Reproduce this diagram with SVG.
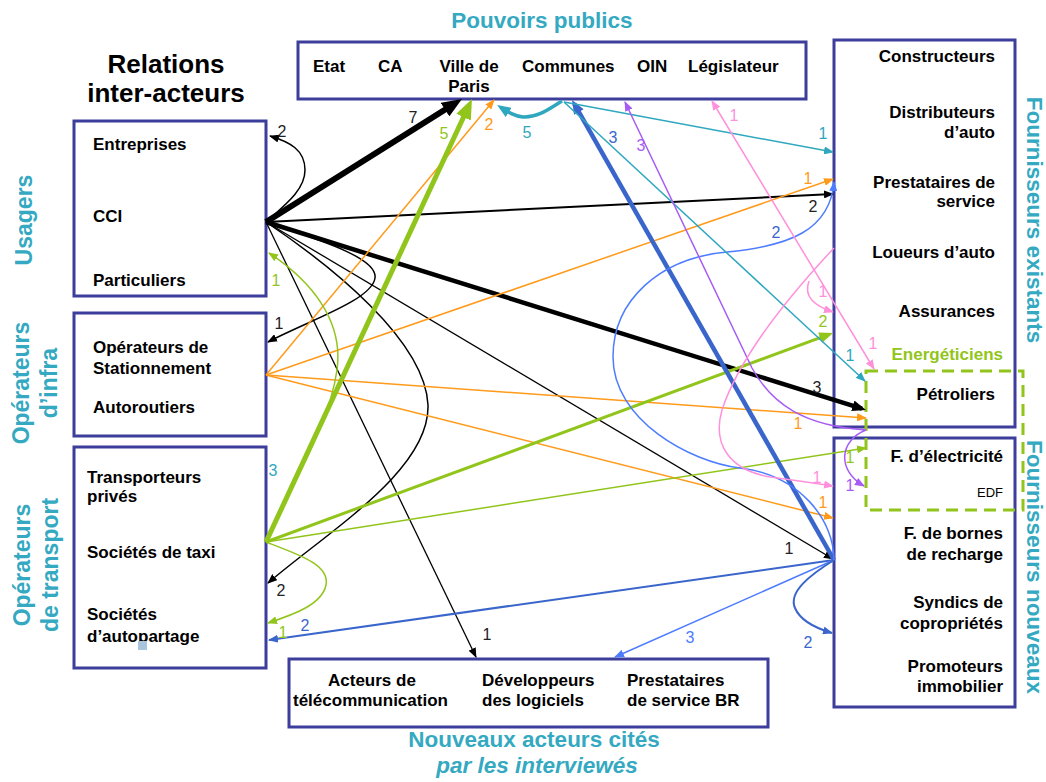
<svg xmlns="http://www.w3.org/2000/svg" width="1046" height="782" viewBox="0 0 1046 782">
<style>
.box{fill:#fff;stroke:#3d3d9c;stroke-width:3}
.t{font-family:"Liberation Sans",Arial,sans-serif;font-weight:bold;font-size:17px;fill:#000}
.e{text-anchor:end}
.h{font-family:"Liberation Sans",Arial,sans-serif;font-weight:bold;font-size:22.5px;fill:#34a9c1}
.s{font-family:"Liberation Sans",Arial,sans-serif;font-weight:bold;font-size:23px;fill:#34a9c1;text-anchor:middle}
.l{font-family:"Liberation Sans",Arial,sans-serif;font-size:16px;text-anchor:middle}
.c path{fill:none}
.k{stroke:#000}.o{stroke:#ff9a1a}.g{stroke:#92c51b}.b{stroke:#3a66cc}.lb{stroke:#4d7cff}.tl{stroke:#2ea7bf}.p{stroke:#a75cf5}.pk{stroke:#ff90dc}
</style>
<defs>
<marker id="mk" viewBox="0 0 10 8" refX="9" refY="4" markerWidth="10" markerHeight="8" markerUnits="userSpaceOnUse" orient="auto-start-reverse"><path d="M0,0L10,4L0,8z" fill="#000"/></marker>
<marker id="mkM" viewBox="0 0 10 8" refX="7" refY="4" markerWidth="14" markerHeight="11" markerUnits="userSpaceOnUse" orient="auto"><path d="M0,0L10,4L0,8z" fill="#000"/></marker>
<marker id="mkB" viewBox="0 0 10 8" refX="6" refY="4" markerWidth="20" markerHeight="16" markerUnits="userSpaceOnUse" orient="auto"><path d="M0,0L10,4L0,8z" fill="#000"/></marker>
<marker id="mo" viewBox="0 0 10 8" refX="9" refY="4" markerWidth="10" markerHeight="8" markerUnits="userSpaceOnUse" orient="auto"><path d="M0,0L10,4L0,8z" fill="#ff9a1a"/></marker>
<marker id="mg" viewBox="0 0 10 8" refX="9" refY="4" markerWidth="10" markerHeight="8" markerUnits="userSpaceOnUse" orient="auto"><path d="M0,0L10,4L0,8z" fill="#92c51b"/></marker>
<marker id="mgM" viewBox="0 0 10 8" refX="7" refY="4" markerWidth="14" markerHeight="11" markerUnits="userSpaceOnUse" orient="auto"><path d="M0,0L10,4L0,8z" fill="#92c51b"/></marker>
<marker id="mgB" viewBox="0 0 10 8" refX="6" refY="4" markerWidth="20" markerHeight="16" markerUnits="userSpaceOnUse" orient="auto"><path d="M0,0L10,4L0,8z" fill="#92c51b"/></marker>
<marker id="mb" viewBox="0 0 10 8" refX="9" refY="4" markerWidth="10" markerHeight="8" markerUnits="userSpaceOnUse" orient="auto"><path d="M0,0L10,4L0,8z" fill="#3a66cc"/></marker>
<marker id="mbM" viewBox="0 0 10 8" refX="7" refY="4" markerWidth="14" markerHeight="11" markerUnits="userSpaceOnUse" orient="auto"><path d="M0,0L10,4L0,8z" fill="#3a66cc"/></marker>
<marker id="mlb" viewBox="0 0 10 8" refX="9" refY="4" markerWidth="10" markerHeight="8" markerUnits="userSpaceOnUse" orient="auto"><path d="M0,0L10,4L0,8z" fill="#4d7cff"/></marker>
<marker id="mt" viewBox="0 0 10 8" refX="9" refY="4" markerWidth="10" markerHeight="8" markerUnits="userSpaceOnUse" orient="auto"><path d="M0,0L10,4L0,8z" fill="#2ea7bf"/></marker>
<marker id="mtM" viewBox="0 0 10 8" refX="7" refY="4" markerWidth="14" markerHeight="11" markerUnits="userSpaceOnUse" orient="auto"><path d="M0,0L10,4L0,8z" fill="#2ea7bf"/></marker>
<marker id="mp" viewBox="0 0 10 8" refX="9" refY="4" markerWidth="10" markerHeight="8" markerUnits="userSpaceOnUse" orient="auto-start-reverse"><path d="M0,0L10,4L0,8z" fill="#a75cf5"/></marker>
<marker id="mpk" viewBox="0 0 10 8" refX="9" refY="4" markerWidth="10" markerHeight="8" markerUnits="userSpaceOnUse" orient="auto-start-reverse"><path d="M0,0L10,4L0,8z" fill="#ff90dc"/></marker>
</defs>
<rect width="1046" height="782" fill="#fff"/>

<g id="title">
<text class="t" x="166" y="73" text-anchor="middle" style="font-size:26px">Relations</text>
<text class="t" x="166" y="102" text-anchor="middle" style="font-size:26px">inter-acteurs</text>
</g>

<g id="usagers">
<rect class="box" x="74" y="121" width="192" height="175"/>
<text class="t" x="93" y="150">Entreprises</text>
<text class="t" x="93" y="222">CCI</text>
<text class="t" x="93" y="286">Particuliers</text>
<text class="s" transform="translate(32,220) rotate(-90)">Usagers</text>
</g>

<g id="operateurs-infra">
<rect class="box" x="74" y="313" width="192" height="123"/>
<text class="t" x="93" y="353">Opérateurs de</text>
<text class="t" x="93" y="374">Stationnement</text>
<text class="t" x="93" y="413">Autoroutiers</text>
<text class="s" transform="translate(29,383) rotate(-90)">Opérateurs</text>
<text class="s" transform="translate(57,383) rotate(-90)">d’infra</text>
</g>

<g id="operateurs-transport">
<rect class="box" x="74" y="447" width="192" height="221"/>
<text class="t" x="87" y="483">Transporteurs</text>
<text class="t" x="87" y="502">privés</text>
<text class="t" x="87" y="558">Sociétés de taxi</text>
<text class="t" x="87" y="620">Sociétés</text>
<text class="t" x="87" y="642">d’autopartage</text>
<rect x="138" y="641" width="9" height="9" fill="#a9c4dd"/>
<text class="s" transform="translate(30,565) rotate(-90)">Opérateurs</text>
<text class="s" transform="translate(58,565) rotate(-90)">de transport</text>
</g>

<g id="pouvoirs-publics">
<rect class="box" x="298" y="42" width="508" height="57"/>
<text class="h" x="542" y="28" text-anchor="middle">Pouvoirs publics</text>
<text class="t" x="313" y="72">Etat</text>
<text class="t" x="378" y="72">CA</text>
<text class="t" x="469" y="72" text-anchor="middle">Ville de</text>
<text class="t" x="469" y="92" text-anchor="middle">Paris</text>
<text class="t" x="522" y="72">Communes</text>
<text class="t" x="637" y="72">OIN</text>
<text class="t" x="688" y="72">Législateur</text>
</g>

<g id="fournisseurs-existants">
<rect class="box" x="834" y="40" width="181" height="387"/>
<text class="t e" x="995" y="62">Constructeurs</text>
<text class="t e" x="995" y="118">Distributeurs</text>
<text class="t e" x="995" y="138">d’auto</text>
<text class="t e" x="995" y="188">Prestataires de</text>
<text class="t e" x="995" y="207">service</text>
<text class="t e" x="995" y="258">Loueurs d’auto</text>
<text class="t e" x="995" y="317">Assurances</text>
<text class="t e" x="995" y="400">Pétroliers</text>
<text class="s" transform="translate(1027,220) rotate(90)" style="font-size:22.5px">Fournisseurs existants</text>
</g>

<g id="fournisseurs-nouveaux">
<rect class="box" x="834" y="438" width="181" height="269"/>
<text class="t e" x="1003" y="462">F. d’électricité</text>
<text class="e" x="1003" y="497" style="font-family:'Liberation Sans',Arial,sans-serif;font-size:13px">EDF</text>
<text class="t e" x="1003" y="539">F. de bornes</text>
<text class="t e" x="1003" y="560">de recharge</text>
<text class="t e" x="1003" y="608">Syndics de</text>
<text class="t e" x="1003" y="629">copropriétés</text>
<text class="t e" x="1003" y="672">Promoteurs</text>
<text class="t e" x="1003" y="692">immobilier</text>
<text class="s" transform="translate(1027,567) rotate(90)" style="font-size:22.5px">Fournisseurs nouveaux</text>
</g>

<g id="energeticiens">
<rect x="866" y="371" width="157" height="139" fill="none" stroke="#92c51b" stroke-width="3" stroke-dasharray="12 7"/>
<text class="t e" x="1003" y="360" style="fill:#92c51b">Energéticiens</text>
</g>

<g id="nouveaux-acteurs">
<rect class="box" x="289" y="659" width="479" height="68"/>
<text class="t" x="328" y="686">Acteurs de</text>
<text class="t" x="293" y="706">télécommunication</text>
<text class="t" x="482" y="686">Développeurs</text>
<text class="t" x="482" y="706">des logiciels</text>
<text class="t" x="627" y="686">Prestataires</text>
<text class="t" x="627" y="706">de service BR</text>
<text class="h" x="534" y="747" text-anchor="middle">Nouveaux acteurs cités</text>
<text class="h" x="537" y="773" text-anchor="middle" font-style="italic">par les interviewés</text>
</g>

<g id="connectors" class="c">
<path class="k" stroke-width="6" d="M266,222 L455.2,103.3" marker-end="url(#mkB)"/>
<path class="k" stroke-width="2" d="M266,222 L833,194" marker-end="url(#mk)"/>
<path class="k" stroke-width="4.5" d="M266,222 L862,408.7" marker-end="url(#mkM)"/>
<path class="k" stroke-width="1.5" d="M266,222 C285,205 305,190 305,170 C305,150 290,142 270,136" marker-end="url(#mk)"/>
<path class="k" stroke-width="1.5" d="M266,222 C320,240 378,258 375,278 C372,300 310,320 268,342" marker-end="url(#mk)"/>
<path class="k" stroke-width="1.5" d="M266,222 C330,265 425,340 428,405 C430,470 330,530 268,583" marker-end="url(#mk)"/>
<path class="k" stroke-width="1.3" d="M266,222 L476,657" marker-end="url(#mk)"/>
<path class="k" stroke-width="1.3" d="M266,222 L833,559" marker-end="url(#mk)"/>
<path class="o" stroke-width="1.5" d="M266,375 L494,100" marker-end="url(#mo)"/>
<path class="o" stroke-width="1.5" d="M266,375 L833,179" marker-end="url(#mo)"/>
<path class="o" stroke-width="1.5" d="M266,375 L866,418" marker-end="url(#mo)"/>
<path class="o" stroke-width="1.5" d="M266,375 L833,518" marker-end="url(#mo)"/>
<path class="g" stroke-width="5" d="M266,542 L468.6,106.3" marker-end="url(#mgB)"/>
<path class="g" stroke-width="3" d="M266,542 L829.1,334.4" marker-end="url(#mgM)"/>
<path class="g" stroke-width="1.5" d="M266,542 L866,448" marker-end="url(#mg)"/>
<path class="g" stroke-width="1.5" d="M266,542 C300,470 330,420 337,370 C344,320 310,280 269,253" marker-end="url(#mg)"/>
<path class="g" stroke-width="1.5" d="M266,542 C300,555 330,565 326,585 C322,605 292,615 268,623" marker-end="url(#mg)"/>
<path class="b" stroke-width="4.5" d="M834,560 L574.1,103.7" marker-end="url(#mbM)"/>
<path class="b" stroke-width="2" d="M834,560 L269,640" marker-end="url(#mb)"/>
<path class="lb" stroke-width="1.5" d="M834,560 L615,657" marker-end="url(#mlb)"/>
<path class="b" stroke-width="2" d="M834,560 C810,575 788,592 795,608 C800,620 815,628 832,633" marker-end="url(#mb)"/>
<path class="lb" stroke-width="1.5" d="M834,560 C834,520 800,475 740,468 C690,462 613,420 613,357 C613,300 660,258 727,252 C790,246 830,230 834,182" marker-end="url(#mlb)"/>
<path class="tl" stroke-width="3.5" d="M562,101 C550,108 538,118 523,117 C514,116 508,112 500.6,107.2" marker-end="url(#mtM)"/>
<path class="tl" stroke-width="1.5" d="M564,102 L833,152" marker-end="url(#mt)"/>
<path class="tl" stroke-width="1.5" d="M564,102 L865,381" marker-end="url(#mt)"/>
<path class="p" stroke-width="1.5" d="M625,102 L752,368 C772,405 805,426 866,430 C840,440 836,470 864,486" marker-start="url(#mp)" marker-end="url(#mp)"/>
<path class="pk" stroke-width="1.5" d="M712,101 L874,369" marker-start="url(#mpk)" marker-end="url(#mpk)"/>
<path class="pk" stroke-width="1.5" d="M834,248 C790,295 740,355 722,410 C712,445 730,470 770,477 C800,481 820,484 833,486" marker-end="url(#mpk)"/>
<path class="pk" stroke-width="1.5" d="M809,281 C803,297 815,306 833,312" marker-end="url(#mpk)"/>
</g>

<g id="connector-labels" class="l">
<g fill="#222">
<text x="413" y="123">7</text><text x="282" y="137">2</text><text x="279" y="329">1</text><text x="281" y="596">2</text>
<text x="487" y="640">1</text><text x="813" y="212">2</text><text x="817" y="393">3</text><text x="789" y="554">1</text>
</g>
<g fill="#ff9a1a">
<text x="489" y="130">2</text><text x="808" y="184">1</text><text x="798" y="429">1</text><text x="823" y="508">1</text>
</g>
<g fill="#92c51b">
<text x="444" y="139">5</text><text x="276" y="286">1</text><text x="283" y="638">1</text><text x="823" y="327">2</text><text x="850" y="463">1</text>
</g>
<g fill="#2ea7bf">
<text x="527" y="138">5</text><text x="823" y="139">1</text><text x="850" y="361">1</text><text x="273" y="476">3</text>
</g>
<g fill="#3a66cc">
<text x="613" y="143">3</text><text x="776" y="238">2</text><text x="305" y="631">2</text><text x="808" y="648">2</text>
</g>
<text x="690" y="643" fill="#4d7cff">3</text>
<g fill="#a75cf5">
<text x="641" y="151">3</text><text x="850" y="491">1</text>
</g>
<g fill="#ff90dc">
<text x="734" y="121">1</text><text x="823" y="297">1</text><text x="873" y="349">1</text><text x="817" y="483">1</text>
</g>
</g>
</svg>
